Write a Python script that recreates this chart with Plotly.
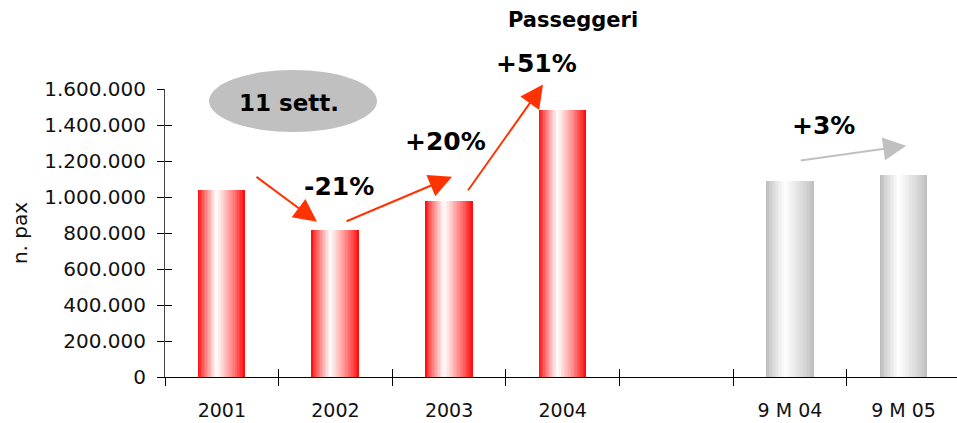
import plotly.graph_objects as go

# Passenger counts (n. pax) per period; the blank slot separates years from 9-month figures
categories = ["2001", "2002", "2003", "2004", " ", "9 M 04", "9 M 05"]
passengers = [1040000, 818000, 979000, 1483000, None, 1091000, 1124000]
bar_kind = ["red", "red", "red", "red", None, "grey", "grey"]

# Growth labels: (text, x in plot fraction, y in plot fraction)
growth_labels = [
    ("-21%", 0.220, 0.663),
    ("+20%", 0.354, 0.819),
    ("+51%", 0.469, 1.087),
    ("+3%", 0.832, 0.872),
]
# Growth arrows: (tail x, tail y, head x, head y, colour)
growth_arrows = [
    (0.292, 1118000, 0.838, 862000, "#ff3300"),
    (1.085, 862000, 2.026, 1113000, "#ff3300"),
    (2.158, 1029000, 2.827, 1625000, "#ff3300"),
    (5.081, 1202000, 6.023, 1285000, "#c0c0c0"),
]

y_ticks = list(range(0, 1600001, 200000))
y_tick_text = [f"{v:,}".replace(",", ".") for v in y_ticks]

BAR_W = 0.414
N_STRIPS = 32
X_RANGE = [-0.5, 6.47]
Y_RANGE = [0, 1600000]
FONT = "DejaVu Sans"


def white_weight(t, peak=0.40):
    if t <= peak:
        w = t / peak
    else:
        w = 1 - (t - peak) / (1 - peak)
    return max(0.0, min(1.0, w)) ** 0.8


def strip_colour(kind, t):
    w = white_weight(t)
    if kind == "red":
        g = int(round(255 * w))
        return f"rgb(255,{g},{g})"
    if kind == "grey":
        base = 182 + 6 * t
        v = int(round(base + (255 - base) * w))
        return f"rgb({v},{v},{v})"
    return "rgba(0,0,0,0)"


fig = go.Figure()

# Each bar is built from thin vertical strips to give the cylinder-like shading
sw = BAR_W / N_STRIPS
for i in range(N_STRIPS):
    t = (i + 0.5) / N_STRIPS
    fig.add_trace(go.Bar(
        x=categories,
        y=passengers,
        width=sw * 1.08,
        offset=-BAR_W / 2 + i * sw,
        marker=dict(color=[strip_colour(k, t) for k in bar_kind], line=dict(width=0)),
        showlegend=False,
        hoverinfo="skip",
    ))

# Overlay axes supply the inner half of the crossing tick marks
fig.add_trace(go.Scatter(
    x=categories, y=[None] * len(categories), xaxis="x2", yaxis="y2",
    mode="markers", showlegend=False, hoverinfo="skip",
))

for text, xv, yv in growth_labels:
    fig.add_annotation(
        x=xv, y=yv, xref="paper", yref="paper", xanchor="center", yanchor="middle",
        text=f"<b>{text}</b>", showarrow=False,
        font=dict(family=FONT, size=25, color="#000000"),
    )

for x0, y0, x1, y1, col in growth_arrows:
    fig.add_annotation(
        x=x1, y=y1, ax=x0, ay=y0, xref="x", yref="y", axref="x", ayref="y",
        text="", showarrow=True, arrowhead=2, arrowsize=2.3, arrowwidth=2,
        arrowcolor=col, standoff=0, startstandoff=0,
    )

# "11 sett." badge
fig.add_shape(
    type="circle", xref="paper", yref="paper",
    x0=0.0556, x1=0.2677, y0=0.8507, y1=1.066,
    fillcolor="#c0c0c0", line=dict(width=0), layer="above",
)
fig.add_annotation(
    x=0.1566, y=0.951, xref="paper", yref="paper", xanchor="center", yanchor="middle",
    text="<b>11 sett.</b>", showarrow=False,
    font=dict(family=FONT, size=23, color="#000000"),
)

fig.add_annotation(
    x=0.515, y=1.2396, xref="paper", yref="paper", xanchor="center", yanchor="middle",
    text="<b>Passeggeri</b>", showarrow=False,
    font=dict(family=FONT, size=21, color="#000000"),
)

fig.update_layout(
    width=957, height=423,
    margin=dict(l=165, r=0, t=89, b=46),
    paper_bgcolor="white", plot_bgcolor="white",
    barmode="overlay", bargap=0,
    font=dict(family=FONT, size=19, color="#111111"),
    xaxis=dict(
        type="category", categoryorder="array", categoryarray=categories,
        range=X_RANGE, tickson="boundaries", ticks="outside", ticklen=8,
        tickcolor="#000000", tickwidth=1, showline=True, linecolor="#000000",
        linewidth=1, showgrid=False, zeroline=False, ticklabelstandoff=16,
        tickfont=dict(family=FONT, size=19, color="#111111"),
    ),
    yaxis=dict(
        range=Y_RANGE, tickvals=y_ticks, ticktext=y_tick_text, ticks="outside",
        ticklen=7, tickcolor="#000000", tickwidth=1, showline=True,
        linecolor="#444444", linewidth=1, showgrid=False, zeroline=False,
        ticklabelstandoff=7,
        title=dict(text="n. pax", font=dict(family=FONT, size=20, color="#111111"), standoff=11),
        tickfont=dict(family=FONT, size=20, color="#111111"),
    ),
    xaxis2=dict(
        type="category", categoryorder="array", categoryarray=categories,
        range=X_RANGE, overlaying="x", anchor="y", tickson="boundaries",
        ticks="inside", ticklen=8, tickcolor="#000000", showticklabels=False,
        showline=False, showgrid=False, zeroline=False,
    ),
    yaxis2=dict(
        range=Y_RANGE, tickvals=y_ticks, overlaying="y", anchor="x",
        ticks="inside", ticklen=7, tickcolor="#000000", showticklabels=False,
        showline=False, showgrid=False, zeroline=False,
    ),
)

fig.write_html("out.html")
